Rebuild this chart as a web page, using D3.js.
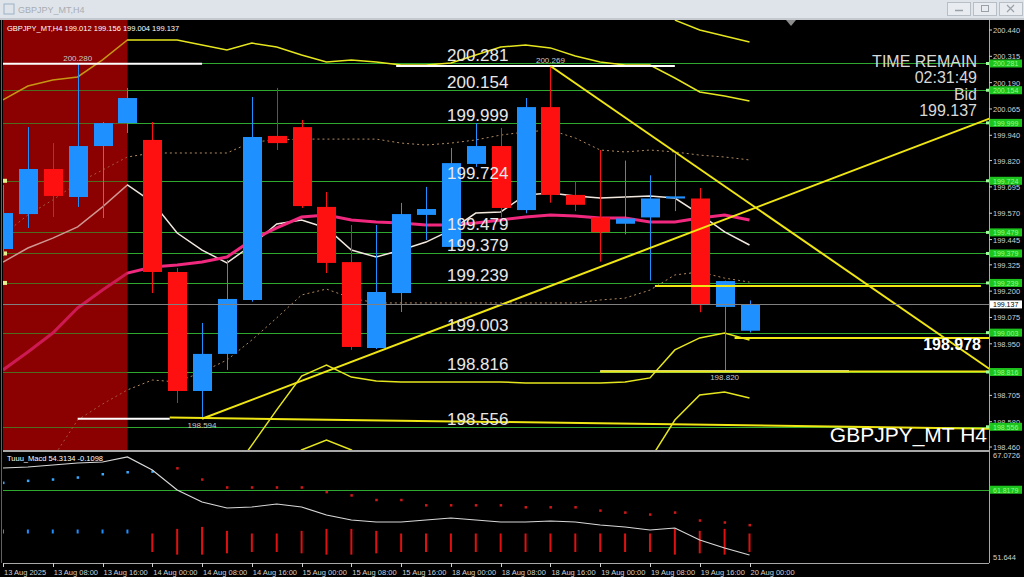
<!DOCTYPE html>
<html><head><meta charset="utf-8">
<script src="https://cdn.jsdelivr.net/npm/d3@7/dist/d3.min.js"></script>
<style>body{margin:0;background:#000;overflow:hidden}text{font-family:"Liberation Sans",Arial,sans-serif}</style>
</head><body>
<svg id="c" width="1024" height="577"></svg>
<script>
// ---------- DATA ----------
const xTickLabels = ["13 Aug 2025","13 Aug 08:00","13 Aug 16:00","14 Aug 00:00","14 Aug 08:00","14 Aug 16:00","15 Aug 00:00","15 Aug 08:00","15 Aug 16:00","18 Aug 00:00","18 Aug 08:00","18 Aug 16:00","19 Aug 00:00","19 Aug 08:00","19 Aug 16:00","20 Aug 00:00"];
const openP  = [199.400,199.566,199.780,199.647,199.889,199.998,199.918,199.291,198.726,198.902,199.158,199.937,199.979,199.600,199.338,198.930,199.191,199.562,199.410,199.804,199.889,199.585,200.074,199.657,199.550,199.520,199.550,199.640,199.640,199.125,199.012];
const highP  = [199.704,199.979,199.903,200.280,200.003,200.165,200.003,199.310,199.049,199.348,200.122,200.165,200.013,199.671,199.514,199.514,199.619,199.695,199.880,199.998,199.975,200.117,200.269,199.720,199.870,199.820,199.750,199.850,199.690,199.250,199.156];
const lowP   = [199.372,199.500,199.552,199.600,199.547,199.951,199.191,198.669,198.594,198.826,199.150,199.870,199.595,199.286,198.921,198.925,199.101,199.443,199.390,199.790,199.550,199.570,199.620,199.580,199.340,199.470,199.250,199.580,199.100,198.820,199.004];
const closeP = [199.571,199.780,199.652,199.889,199.998,200.117,199.291,198.726,198.902,199.163,199.932,199.903,199.604,199.334,198.935,199.196,199.566,199.590,199.808,199.889,199.595,200.074,199.657,199.610,199.480,199.545,199.640,199.650,199.134,199.248,199.137];
const upperBand = [200.108,200.174,200.203,200.217,200.298,200.393,200.393,200.393,200.369,200.345,200.378,200.359,200.321,200.288,200.298,200.288,200.274,200.274,200.283,200.321,200.359,200.369,200.355,200.317,200.288,200.274,200.274,200.212,200.146,200.127,200.103];
const outerUpper = [null,null,null,null,null,null,null,null,null,null,null,null,null,null,null,null,null,null,null,null,null,null,null,null,null,null,null,200.487,200.440,200.412,200.383];
const lowerBand = [null,null,null,null,null,null,null,null,null,198.303,198.469,198.636,198.797,198.849,198.792,198.773,198.769,198.769,198.769,198.769,198.769,198.764,198.764,198.764,198.764,198.769,198.788,198.921,198.978,199.001,198.968];
const outerLower = [null,null,null,null,null,null,null,null,null,null,null,198.35,198.446,198.493,198.446,198.35,198.30,198.30,198.30,198.30,198.30,198.30,198.30,198.30,198.30,198.33,198.40,198.588,198.707,198.721,198.693];
const upperDotted = [199.467,199.562,199.633,199.714,199.775,199.837,199.856,199.856,199.856,199.856,199.908,199.918,199.922,199.922,199.922,199.922,199.903,199.894,199.903,199.918,199.941,199.956,199.965,199.927,199.870,199.861,199.870,199.861,199.846,199.837,199.823];
const lowerDotted = [198.208,198.303,198.408,198.588,198.664,198.731,198.778,198.769,198.816,198.873,198.968,199.073,199.182,199.210,199.167,199.144,199.144,199.144,199.144,199.144,199.144,199.144,199.144,199.144,199.158,199.167,199.205,199.277,199.291,199.262,199.243];
const fastMA = [199.338,199.405,199.452,199.505,199.600,199.704,199.623,199.476,199.395,199.334,199.419,199.519,199.538,199.500,199.395,199.362,199.395,199.433,199.490,199.571,199.576,199.657,199.666,199.652,199.642,199.647,199.652,199.642,199.566,199.481,199.419];
const slowMA = [198.826,198.911,199.001,199.120,199.205,199.286,199.315,199.324,199.338,199.362,199.443,199.500,199.552,199.562,199.538,199.528,199.524,199.514,199.514,199.524,199.538,199.552,199.562,199.557,199.547,199.547,199.528,199.528,199.547,199.562,199.538];
const levels = [200.281,200.154,199.999,199.724,199.479,199.379,199.239,199.003,198.816,198.556];
const leftMarkedLevels = [199.724,199.379,199.239];
const priceTicks = [200.440,200.315,200.190,200.065,199.940,199.820,199.695,199.570,199.445,199.325,199.200,199.075,198.950,198.705,198.580,198.460];
const bidPrice = 199.137;
const bidText = "199.137";
const infoLines = ["TIME REMAIN","02:31:49","Bid","199.137"];
// trend objects: [bar1, price1, bar2, price2]
const yellowLines = [[8,198.594,39.7,200.022],[22,200.269,39.7,198.826],[6.7,198.600,39.7,198.547],[26.2,199.225,39.3,199.225],[29.4,198.978,39.7,198.978],[24,198.818,39.7,198.818]];
const whiteLines = [[0,200.280,8,200.280],[3,198.594,6.7,198.594],[15.8,200.269,27,200.269],[24,198.820,34,198.820]];
const hiLoLabels = [[3,200.280,"200.280",-1],[8,198.594,"198.594",1],[22,200.269,"200.269",-1],[29,198.820,"198.820",1]];
// indicator
const indTicks = [67.0726,51.644];
const indLevel = 61.8179;
const indLine = [65.106,65.257,65.560,65.862,66.014,66.770,64.804,61.778,59.963,59.056,59.207,59.661,59.207,58.000,57.241,56.938,56.938,57.241,57.543,57.241,56.938,56.938,57.089,56.938,56.484,56.182,55.728,56.031,54.215,53.004,51.947];
const indDots = [62.9,63.2,63.4,63.7,64.2,64.5,64.6,65.1,63.4,62.2,62.2,62.2,62.2,61.5,61.0,60.3,60.3,59.5,59.5,59.5,59.5,59.2,59.2,59.2,58.7,58.4,58.1,58.4,57.2,56.9,56.5];
const histTop = [55.8,55.8,55.8,55.8,55.8,55.8,55.2,55.9,56.2,55.6,55.2,55.2,55.6,55.9,55.9,55.6,55.2,55.2,55.2,55.2,55.2,55.2,55.2,55.2,55.2,55.2,55.2,55.9,55.6,55.9,55.2];
const histBottom = [55.2,55.2,55.2,55.2,55.2,55.2,52.4,52.0,52.0,52.2,52.4,52.4,52.2,52.0,52.0,52.2,52.4,52.4,52.4,52.4,52.4,52.4,52.4,52.4,52.4,52.4,52.4,52.0,52.2,52.0,52.4];

// ---------- LAYOUT ----------
const svg = d3.select("#c");
const W=1024,H=577, L=3, R=989, T=20, MB=450, IT=452, IB=563;
const x = d3.scaleLinear().domain([0,30]).range([3,749.5]);
const y = d3.scaleLinear().domain([198.460,200.440]).range([447,30]);
const iy = d3.scaleLinear().domain([51.644,67.0726]).range([557,455]);
const bw = 19;

svg.append("rect").attr("width",W).attr("height",H).attr("fill","#000");
const defs = svg.append("defs");
defs.append("clipPath").attr("id","mainClip").append("rect").attr("x",L).attr("y",T).attr("width",R-L).attr("height",MB-T);
defs.append("clipPath").attr("id","indClip").append("rect").attr("x",L).attr("y",IT).attr("width",R-L).attr("height",IB-IT);
const g = svg.append("g").attr("clip-path","url(#mainClip)");

// red session background
g.append("rect").attr("x",x(0)).attr("y",T).attr("width",x(5)-x(0)).attr("height",MB-T).attr("fill","#8b0000");

// level lines
g.selectAll(".lvl").data(levels).join("line").attr("x1",L).attr("x2",R)
  .attr("y1",d=>Math.round(y(d))+0.5).attr("y2",d=>Math.round(y(d))+0.5).attr("stroke","#2fa82f").attr("stroke-width",1);

// bands and MAs
const ln = d3.line().defined(d=>d!=null).x((d,i)=>x(i)).y(d=>y(d));
function path(data,color,w,dash){const p=g.append("path").attr("d",ln(data)).attr("fill","none").attr("stroke",color).attr("stroke-width",w);if(dash)p.attr("stroke-dasharray",dash);return p;}
path(upperDotted,"#b08a60",1,"2,3");
path(lowerDotted,"#b08a60",1,"2,3");
path(upperBand,"#e6e61e",1.5);
path(outerUpper,"#e6e61e",1.5);
path(lowerBand,"#e6e61e",1.5);
path(outerLower,"#e6e61e",1.5);
path(fastMA,"#f2e8df",1.5);
path(slowMA,"#f0287e",3);
// tint overlay on red region
g.append("rect").attr("x",x(0)).attr("y",T).attr("width",x(5)-x(0)).attr("height",MB-T).attr("fill","#8b0000").attr("opacity",0.35);

// left markers
g.selectAll(".lm").data(leftMarkedLevels).join("rect").attr("x",3).attr("y",d=>y(d)-2).attr("width",4).attr("height",4).attr("fill","#e8f08a");

// candles
const idx = d3.range(openP.length);
const col = i=> closeP[i]>=openP[i] ? "#1e90ff" : "#ff1010";
g.selectAll(".wick").data(idx).join("line").attr("x1",i=>Math.round(x(i))+0.5).attr("x2",i=>Math.round(x(i))+0.5)
  .attr("y1",i=>y(highP[i])).attr("y2",i=>y(lowP[i])).attr("stroke",i=>col(i)).attr("stroke-width",1);
g.selectAll(".body").data(idx).join("rect").attr("x",i=>Math.round(x(i))-bw/2+0.5).attr("width",bw)
  .attr("y",i=>y(Math.max(openP[i],closeP[i]))).attr("height",i=>Math.max(1.5,Math.abs(y(openP[i])-y(closeP[i])))).attr("fill",i=>col(i));

// white hi/lo lines
g.selectAll(".wl").data(whiteLines).join("line").attr("x1",d=>x(d[0])).attr("x2",d=>x(d[2])).attr("y1",d=>y(d[1])).attr("y2",d=>y(d[3])).attr("stroke","#ffffff").attr("stroke-width",2);
// yellow objects
g.selectAll(".yl").data(yellowLines).join("line").attr("x1",d=>x(d[0])).attr("x2",d=>x(d[2])).attr("y1",d=>y(d[1])).attr("y2",d=>y(d[3])).attr("stroke","#f0e614").attr("stroke-width",2);
// hi/lo labels
g.selectAll(".hl").data(hiLoLabels).join("text").attr("x",d=>x(d[0])).attr("y",d=>y(d[1])+(d[3]<0?-3:9)).attr("text-anchor","middle")
  .attr("font-size",8).attr("fill","#c8c8c8").text(d=>d[2]);

// big level labels
g.selectAll(".bl").data(levels).join("text").attr("x",447).attr("y",d=>y(d)-2).attr("font-size",17).attr("fill","#e8e8e8").text(d=>d.toFixed(3));

// bid line
g.append("line").attr("x1",L).attr("x2",R).attr("y1",Math.round(y(bidPrice))+0.5).attr("y2",Math.round(y(bidPrice))+0.5).attr("stroke","#808080").attr("stroke-width",1);

// info texts
svg.selectAll(".info").data(infoLines).join("text").attr("x",977).attr("y",(d,i)=>67+i*16.3).attr("text-anchor","end")
  .attr("font-size",16).attr("fill","#d8d8d8").text(d=>d);
svg.append("text").attr("x",981).attr("y",350).attr("text-anchor","end").attr("font-size",16).attr("font-weight","bold").attr("fill","#ffffff").text("198.978");
svg.append("text").attr("x",987).attr("y",442).attr("text-anchor","end").attr("font-size",21).attr("fill","#ffffff").text("GBPJPY_MT H4");
svg.append("text").attr("x",7).attr("y",31).attr("font-size",7.5).attr("fill","#ffffff")
  .text("GBPJPY_MT,H4  "+[openP[30],highP[30],lowP[30],closeP[30]].map(v=>v.toFixed(3)).join(" "));
// shift marker
svg.append("path").attr("d","M786,20 L796,20 L791,26 Z").attr("fill","#8c8c8c");

// ---------- indicator panel ----------
const gi = svg.append("g").attr("clip-path","url(#indClip)");
gi.append("line").attr("x1",L).attr("x2",R).attr("y1",Math.round(iy(indLevel))+0.5).attr("y2",Math.round(iy(indLevel))+0.5).attr("stroke","#2fa82f");
gi.selectAll(".hb").data(idx).join("line").attr("x1",i=>x(i)).attr("x2",i=>x(i)).attr("y1",i=>iy(histTop[i])).attr("y2",i=>iy(histBottom[i]))
  .attr("stroke",i=>i<6?"#1e90ff":"#e01010").attr("stroke-width",2);
gi.selectAll(".dt").data(idx).join("rect").attr("x",i=>x(i)-1).attr("y",i=>iy(indDots[i])-1).attr("width",2.5).attr("height",2.5)
  .attr("fill",i=>i<7?"#3aa8ff":"#d01818");
gi.append("path").attr("d",d3.line().x((d,i)=>x(i)).y(d=>iy(d))(indLine)).attr("fill","none").attr("stroke","#d8d8d8").attr("stroke-width",1.2);
svg.append("text").attr("x",7).attr("y",461).attr("font-size",7.5).attr("fill","#ffffff").text("Tuuu_Macd 54.3134  -0.1098");

// ---------- frames ----------
svg.append("line").attr("x1",R+0.5).attr("x2",R+0.5).attr("y1",T).attr("y2",IB).attr("stroke","#a8a8a8");
svg.append("line").attr("x1",L).attr("x2",R).attr("y1",IB+0.5).attr("y2",IB+0.5).attr("stroke","#a8a8a8");
svg.append("rect").attr("x",L).attr("y",MB).attr("width",R-L).attr("height",2).attr("fill","#a8a8a8");
svg.append("line").attr("x1",1.5).attr("x2",1.5).attr("y1",T).attr("y2",IB).attr("stroke","#606060");

// price axis
const ax = svg.append("g");
ax.selectAll(".pt").data(priceTicks).join("text").attr("x",993).attr("y",d=>y(d)+3).attr("font-size",7.5).attr("fill","#d0d0d0").text(d=>d.toFixed(3));
ax.selectAll(".ptk").data(priceTicks).join("line").attr("x1",R).attr("x2",R+3).attr("y1",d=>y(d)).attr("y2",d=>y(d)).attr("stroke","#d0d0d0");
ax.selectAll(".lb").data(levels).join("rect").attr("x",990).attr("y",d=>y(d)-4).attr("width",32).attr("height",8).attr("fill","#1ec41e");
ax.selectAll(".lbt").data(levels).join("text").attr("x",993).attr("y",d=>y(d)+3).attr("font-size",7).attr("fill","#8cff8c").text(d=>d.toFixed(3));
ax.selectAll(".lbs").data(levels).join("rect").attr("x",986).attr("y",d=>y(d)-1.5).attr("width",3).attr("height",3).attr("fill","#9cff9c");
ax.append("rect").attr("x",990).attr("y",y(bidPrice)-4).attr("width",32).attr("height",8).attr("fill","#ffffff");
ax.append("text").attr("x",993).attr("y",y(bidPrice)+3).attr("font-size",7).attr("fill","#000").text(bidText);
// indicator axis
ax.selectAll(".it").data(indTicks).join("text").attr("x",993).attr("y",d=>iy(d)+3).attr("font-size",7.5).attr("fill","#d0d0d0").text(d=>d);
ax.append("rect").attr("x",990).attr("y",iy(indLevel)-4).attr("width",32).attr("height",8).attr("fill","#1ec41e");
ax.append("text").attr("x",993).attr("y",iy(indLevel)+3).attr("font-size",7).attr("fill","#8cff8c").text(indLevel.toFixed(4));

// time axis
const tks = xTickLabels.map((t,k)=>({t, i:k*2}));
ax.selectAll(".xt").data(tks).join("text").attr("x",d=>x(d.i)+1).attr("y",575).attr("font-size",7.5).attr("fill","#d0d0d0").text(d=>d.t);
ax.selectAll(".xtk").data(tks).join("line").attr("x1",d=>Math.round(x(d.i))+0.5).attr("x2",d=>Math.round(x(d.i))+0.5).attr("y1",IB).attr("y2",IB+4).attr("stroke","#d0d0d0");

// ---------- window title bar ----------
svg.append("rect").attr("x",0).attr("y",0).attr("width",W).attr("height",18).attr("fill","#dfe4ea");
svg.append("rect").attr("x",0).attr("y",18).attr("width",W).attr("height",2).attr("fill","#c4c9cf");
svg.append("rect").attr("x",4).attr("y",4).attr("width",10).attr("height",10).attr("fill","none").attr("stroke","#9bb2c8");
svg.append("text").attr("x",18).attr("y",13).attr("font-size",9).attr("fill","#a8adb3").text("GBPJPY_MT,H4");
const btns=[947,973,999];
svg.selectAll(".wb").data(btns).join("rect").attr("x",d=>d+0.5).attr("y",2.5).attr("width",23).attr("height",13).attr("fill","#e8ecf0").attr("stroke","#b8bec6");
svg.append("line").attr("x1",955).attr("x2",963).attr("y1",10.5).attr("y2",10.5).attr("stroke","#9aa0a8").attr("stroke-width",1.5);
svg.append("rect").attr("x",981.5).attr("y",5.5).attr("width",7).attr("height",6).attr("fill","none").attr("stroke","#9aa0a8");
svg.append("path").attr("d","M1007,5 L1014,12 M1014,5 L1007,12").attr("stroke","#9aa0a8").attr("stroke-width",1.2);
</script>
</body></html>
